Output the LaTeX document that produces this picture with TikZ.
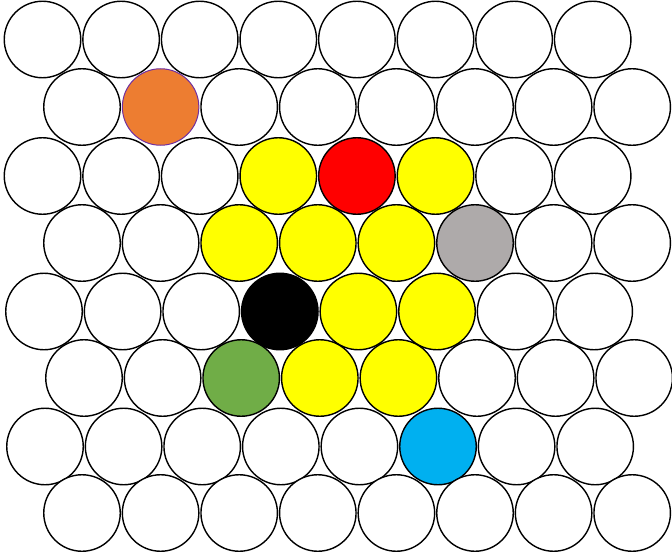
\documentclass[tikz,border=0pt]{standalone}
\definecolor{corange}{HTML}{ED7D31}
\definecolor{cpurple}{HTML}{7030A0}
\definecolor{cyellow}{HTML}{FFFF00}
\definecolor{cred}{HTML}{FF0000}
\definecolor{cgray}{HTML}{AEAAAA}
\definecolor{cgreen}{HTML}{70AD47}
\definecolor{cblue}{HTML}{00B0F0}
\tikzset{
  ball/.style={circle, draw=black, line width=1.4pt, fill=white, minimum size=76.5pt, inner sep=0pt, outer sep=0pt},
  ylw/.style={fill=cyellow},
  cell 1-1/.style={fill=corange, draw=cpurple, line width=1pt},
  cell 2-3/.style={ylw}, cell 2-4/.style={fill=cred}, cell 2-5/.style={ylw},
  cell 3-2/.style={ylw}, cell 3-3/.style={ylw}, cell 3-4/.style={ylw}, cell 3-5/.style={fill=cgray},
  cell 4-3/.style={fill=black}, cell 4-4/.style={ylw}, cell 4-5/.style={ylw},
  cell 5-2/.style={fill=cgreen}, cell 5-3/.style={ylw}, cell 5-4/.style={ylw},
  cell 6-5/.style={fill=cblue}
}
\begin{document}
\begin{tikzpicture}[x=1pt,y=-1pt]
\useasboundingbox (0,0) rectangle (672,559);
\foreach \r/\xo/\yo in {0/42.5/39.5, 1/82/107, 2/42.5/176, 3/82/243, 4/44/311.5, 5/84/378, 6/45/446.5, 7/82/513}{
  \foreach \k in {0,...,7}{
    \node[ball, cell \r-\k/.try] (c-\r-\k) at ({\xo+78.6*\k},\yo) {};
  }
}
\end{tikzpicture}
\end{document}
